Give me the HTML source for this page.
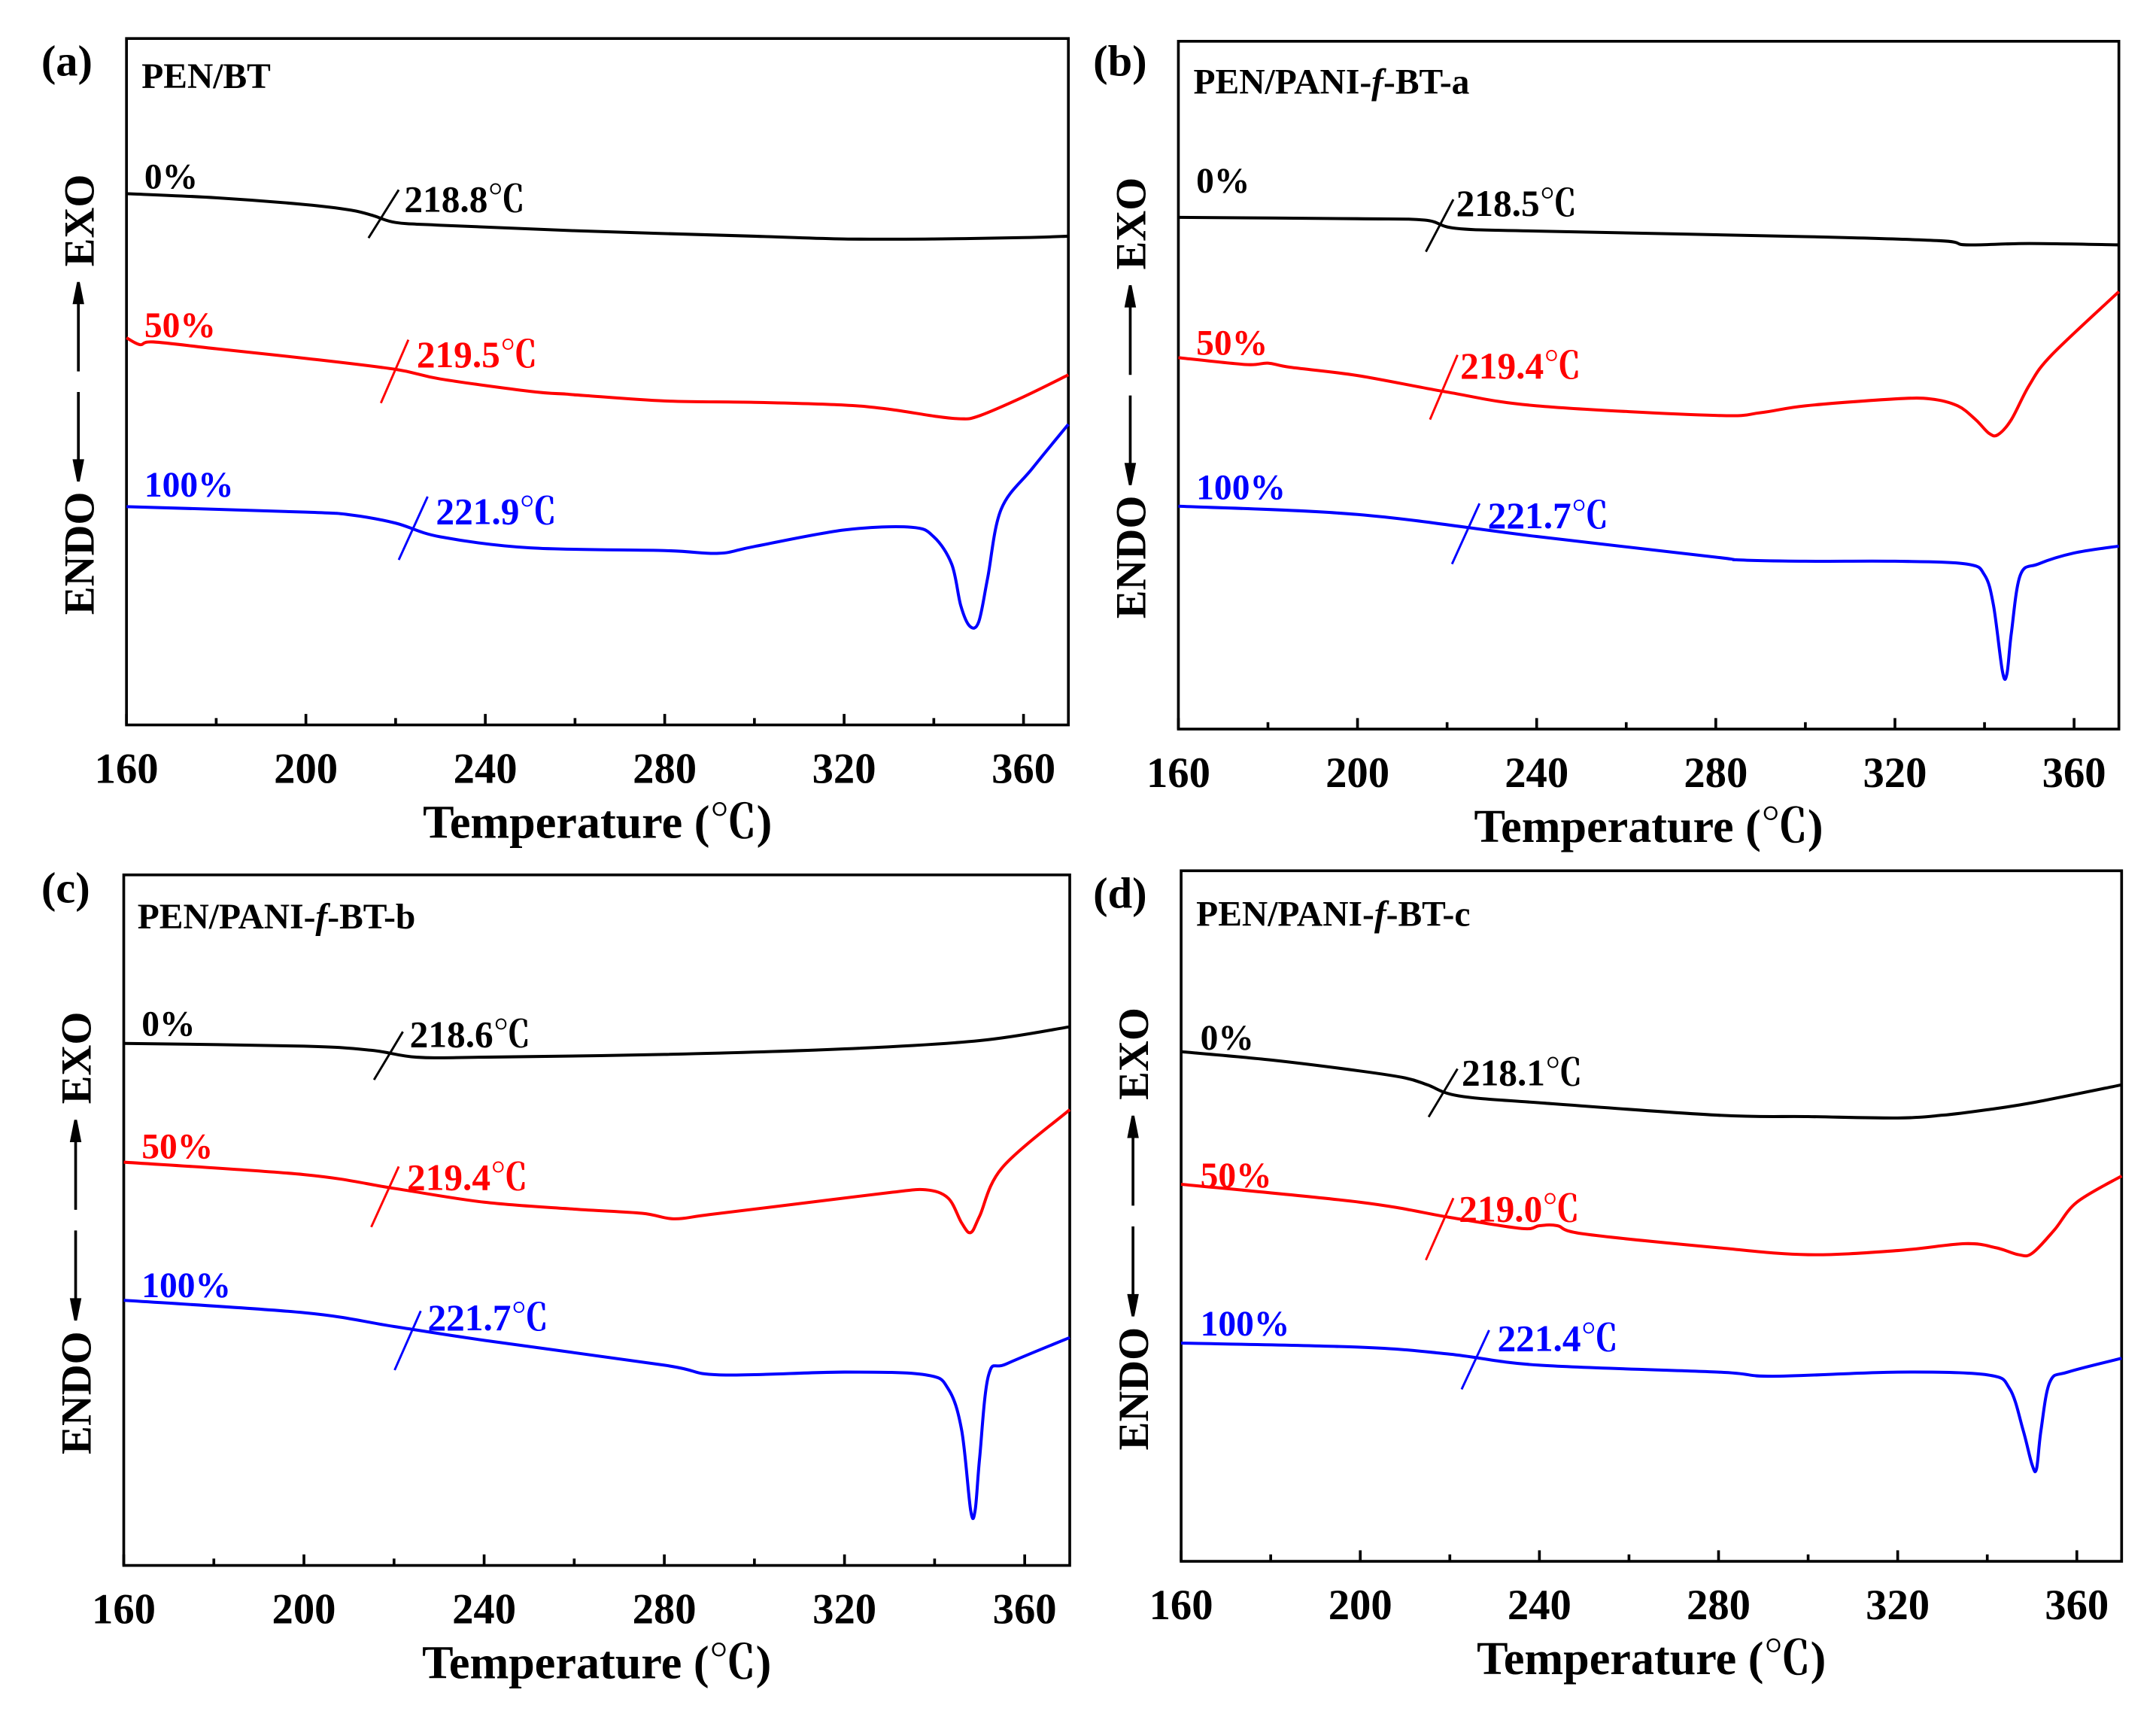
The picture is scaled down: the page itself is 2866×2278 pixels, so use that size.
<!DOCTYPE html>
<html><head><meta charset="utf-8"><style>
html,body{margin:0;padding:0;background:#fff;}
svg{display:block;}
text{font-family:"Liberation Serif","Noto Serif CJK SC",serif;font-weight:bold;}
</style></head>
<body>
<svg id="fig" width="2866" height="2278" viewBox="0 0 1568 1246" preserveAspectRatio="none" xmlns="http://www.w3.org/2000/svg"></svg>
<script>
// ---- data (temperature in C, heat flow signal in arbitrary units, 0 = panel bottom) ----
const xTicks = [160, 200, 240, 280, 320, 360];
const xTickLabels = ["160", "200", "240", "280", "320", "360"];
const xMinorTicks = [180, 220, 260, 300, 340];

const tempA0 = [160,180,200,210,215,220,230,260,300,320,340,360,370];
const flowA0 = [387,384,379,375,371,366,364,360,356,354,354,355,356];
const tempA50 = [160,163,166,180,200,220,230,250,258,262,280,300,320,330,340,346,350,360,370];
const flowA50 = [282,277,279,274,267,259,252,243,241,240,236,235,233,230,225,223,225,239,255];
const tempA100 = [160,200,210,220,230,250,280,292,300,320,335,340,344,346,348,350,352,355,362,370];
const flowA100 = [159,155,153,147,137,129,127,125,130,142,144,137,117,87,72,75,107,157,187,219];

const tempB0 = [160,200,215,222,240,300,330,336,350,370];
const flowB0 = [372,371,370,364,362,358,355,352,353,352];
const tempB50 = [160,175,180,185,200,220,240,280,290,300,320,328,334,338,341,343,346,350,355,370];
const flowB50 = [270,265,266,263,257,245,235,228,230,235,240,240,235,225,215,214,225,250,272,318];
const tempB100 = [160,200,240,280,285,300,320,336,340,342,344,345,346,348,352,360,370];
const flowB100 = [162,156,140,125,123,122,122,120,112,90,42,40,70,112,120,128,133];

const tempC0 = [160,200,215,225,240,280,320,350,370];
const flowC0 = [378,376,373,368,368,370,374,380,390];
const tempC50 = [160,200,220,240,260,275,282,290,310,330,338,343,346,348,350,355,370];
const flowC50 = [292,283,273,263,258,255,251,254,262,270,272,266,248,241,253,288,330];
const tempC100 = [160,200,220,240,280,292,320,338,343,346,348,349,350,352,356,370];
const flowC100 = [192,183,173,163,145,138,140,138,128,98,40,40,78,138,146,165];

const tempD0 = [160,180,200,210,215,222,240,280,300,320,330,340,350,370];
const flowD0 = [369,363,355,350,345,337,332,323,322,321,323,327,332,345];
const tempD50 = [160,200,220,236,240,244,250,280,300,320,335,342,347,350,355,360,370];
const flowD50 = [273,260,249,241,243,243,237,227,222,225,230,227,222,223,240,260,279];
const tempD100 = [160,200,220,240,280,292,320,340,345,348,350,351,352,354,358,370];
const flowD100 = [158,155,150,142,137,134,137,135,125,95,70,67,95,130,137,147];

const tgLabels = {a:["218.8℃","219.5℃","221.9℃"], b:["218.5℃","219.4℃","221.7℃"], c:["218.6℃","219.4℃","221.7℃"], d:["218.1℃","219.0℃","221.4℃"]};

// ---- layout ----
const NS = "http://www.w3.org/2000/svg";
const svg = document.getElementById("fig");
function mk(tag, attrs, parent) {
  const e = document.createElementNS(NS, tag);
  for (const k in attrs) e.setAttribute(k, attrs[k]);
  (parent || svg).appendChild(e);
  return e;
}
const colors = ["#000", "#ff0000", "#0000ff"];
const panels = [
  {id:"a", l:92, r:777, t:28, b:527, title:"PEN/BT", letterX:30, letterY:55, titleX:103, titleY:64,
   series:[[tempA0,flowA0],[tempA50,flowA50],[tempA100,flowA100]],
   pct:[[105,137],[105,245],[105,361]],
   marks:[[268,173,290,138,294,154],[277,293,297,247,303,267],[290,407,311,361,317,381]]},
  {id:"b", l:857, r:1541, t:30, b:530, title:"PEN/PANI-", letterX:795, letterY:55, titleX:868, titleY:68,
   series:[[tempB0,flowB0],[tempB50,flowB50],[tempB100,flowB100]],
   pct:[[870,140],[870,258],[870,363]],
   marks:[[1037,183,1057,145,1059,157],[1040,305,1060,258,1062,275],[1056,410,1076,366,1082,384]]},
  {id:"c", l:90, r:778, t:636, b:1138, title:"PEN/PANI-", letterX:30, letterY:656, titleX:100, titleY:675,
   series:[[tempC0,flowC0],[tempC50,flowC50],[tempC100,flowC100]],
   pct:[[103,753],[103,842],[103,943]],
   marks:[[272,785,293,750,298,761],[270,892,290,848,296,865],[287,996,306,953,311,967]]},
  {id:"d", l:859, r:1543, t:633, b:1135, title:"PEN/PANI-", letterX:795, letterY:660, titleX:870, titleY:673,
   series:[[tempD0,flowD0],[tempD50,flowD50],[tempD100,flowD100]],
   pct:[[873,763],[873,863],[873,971]],
   marks:[[1039,812,1060,777,1063,789],[1037,916,1057,871,1061,888],[1063,1010,1083,967,1089,982]]}
];
const suffix = {b:"a", c:"b", d:"c"};
const pctNames = ["0%","50%","100%"];

function smoothPath(pts) {
  let d = "M" + pts[0][0].toFixed(2) + "," + pts[0][1].toFixed(2);
  for (let i = 0; i < pts.length - 1; i++) {
    const p0 = pts[i-1] || pts[i], p1 = pts[i], p2 = pts[i+1], p3 = pts[i+2] || p2;
    const c1x = p1[0] + (p2[0]-p0[0])/6, c1y = p1[1] + (p2[1]-p0[1])/6;
    const c2x = p2[0] - (p3[0]-p1[0])/6, c2y = p2[1] - (p3[1]-p1[1])/6;
    d += " C" + c1x.toFixed(2)+","+c1y.toFixed(2)+" "+c2x.toFixed(2)+","+c2y.toFixed(2)+" "+p2[0].toFixed(2)+","+p2[1].toFixed(2);
  }
  return d;
}

panels.forEach(p => {
  const g = mk("g", {});
  
  
  const xs = v => p.l + (v - 160) / (370 - 160) * (p.r - p.l);
  const ys = v => p.b - v / 500 * (p.b - p.t);

  const fr = mk("rect", {x:p.l, y:p.t, width:p.r-p.l, height:p.b-p.t, fill:"none", stroke:"#000", "stroke-width":2}, g);
  
  

  xTicks.forEach((v, i) => {
    const tk = mk("line", {x1:xs(v), x2:xs(v), y1:p.b, y2:p.b-8, stroke:"#000", "stroke-width":2}, g);
    
    
    const tl = mk("text", {x:xs(v), y:p.b+42, "text-anchor":"middle", "font-size":31}, g);
    
    
    tl.textContent = xTickLabels[i];
  });
  xMinorTicks.forEach(v => {
    const tk = mk("line", {x1:xs(v), x2:xs(v), y1:p.b, y2:p.b-5, stroke:"#000", "stroke-width":2}, g);
    
    
  });
  const xt = mk("text", {x:(p.l+p.r)/2, y:p.b+82, "text-anchor":"middle", "font-size":34}, g);
  
  
  xt.textContent = "Temperature (℃)";

  const ax = p.l - 35;
  const H = p.b - p.t;
  const exo = mk("text", {x:0, y:0, "text-anchor":"middle", "font-size":31, transform:"translate("+(ax+11)+","+(p.t+H*0.265)+") rotate(-90)"}, g);
  
  
  exo.textContent = "EXO";
  const endo = mk("text", {x:0, y:0, "text-anchor":"middle", "font-size":31, transform:"translate("+(ax+11)+","+(p.t+H*0.75)+") rotate(-90)"}, g);
  
  
  endo.textContent = "ENDO";
  const a1 = mk("path", {d:"M"+ax+","+(p.t+H*0.485)+" V"+(p.t+H*0.37)+" M"+(ax-3)+","+(p.t+H*0.385)+" L"+ax+","+(p.t+H*0.355)+" L"+(ax+3)+","+(p.t+H*0.385)+"Z", stroke:"#000", "stroke-width":2, fill:"#000"}, g);
  
  
  const a2 = mk("path", {d:"M"+ax+","+(p.t+H*0.515)+" V"+(p.t+H*0.63)+" M"+(ax-3)+","+(p.t+H*0.615)+" L"+ax+","+(p.t+H*0.645)+" L"+(ax+3)+","+(p.t+H*0.615)+"Z", stroke:"#000", "stroke-width":2, fill:"#000"}, g);
  
  

  const lt = mk("text", {x:p.letterX, y:p.letterY, "font-size":32}, g);
  
  
  lt.textContent = "(" + p.id + ")";
  const tt = mk("text", {x:p.titleX, y:p.titleY, "font-size":26}, g);
  
  
  tt.textContent = p.title;
  if (suffix[p.id]) {
    const ts = mk("tspan", {"font-style":"italic"}, tt); ts.textContent = "f";
    const ts2 = mk("tspan", {}, tt); ts2.textContent = "-BT-" + suffix[p.id];
  }

  p.series.forEach((s, i) => {
    const pts = s[0].map((t, j) => [xs(t), ys(s[1][j])]);
    const path = mk("path", {d:smoothPath(pts), fill:"none", stroke:colors[i], "stroke-width":2.2, "stroke-linejoin":"round"}, g);
    
    
    const pl = mk("text", {x:p.pct[i][0], y:p.pct[i][1], "font-size":26, fill:colors[i]}, g);
    
    
    pl.textContent = pctNames[i];
    const m = p.marks[i];
    const ml = mk("line", {x1:m[0], y1:m[1], x2:m[2], y2:m[3], stroke:colors[i], "stroke-width":1.6}, g);
    
    
    const mt = mk("text", {x:m[4], y:m[5], "font-size":27, fill:colors[i]}, g);
    
    
    mt.textContent = tgLabels[p.id][i];
  });
});
</script>
</body></html>
